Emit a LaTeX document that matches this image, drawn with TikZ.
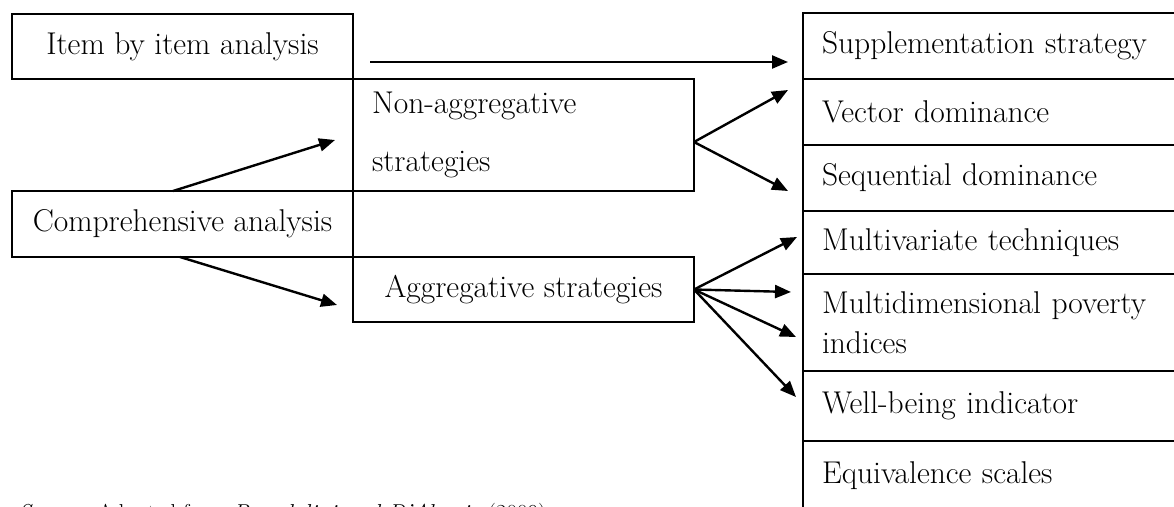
\documentclass[tikz,border=0pt]{standalone}
\usetikzlibrary{positioning,calc,arrows.meta}

\begin{document}
\begin{tikzpicture}[
    x=1pt, y=-1pt,
    node distance=0pt,
    every node/.style={font=\fontsize{31.5}{40}\selectfont, outer sep=0pt},
    box/.style={rectangle, draw, line width=2.4pt, inner sep=0pt,
                minimum width=341pt, text centered},
    row/.style={rectangle, draw, line width=2.4pt, inner xsep=19pt, inner ysep=0pt,
                text width=362pt, align=left},
    arrow/.style={-{Triangle[length=16pt,width=13pt]}, line width=2.4pt},
    lbl/.style={font=\fontsize{23}{28}\selectfont}
]
\useasboundingbox (0,0) rectangle (1174,506);
\clip (0,0) rectangle (1174,506);

%% ── Left side ───────────────────────────────────────────────────
\node[box, minimum height=65pt] (item) at (182.5,46.5) {Item by item analysis};
\node[box, minimum height=66pt] (comp) at (182.5,224)  {Comprehensive analysis};

%% ── Middle ──────────────────────────────────────────────────────
\node[box, minimum height=112pt, align=left, text width=303pt, inner xsep=19pt]
                             (nonagg) at (523.5,135) {Non-aggregative\\[18pt]strategies};
\node[box, minimum height=65pt] (agg) at (523.5,289.5) {Aggregative strategies};

%% ── Right column ────────────────────────────────────────────────
\node[row, minimum height=66pt, anchor=north west] (supp) at (803,13) {Supplementation strategy};
\node[row, minimum height=66pt, below=of supp]   (vec)    {Vector dominance};
\node[row, minimum height=66pt, below=of vec]    (seq)    {Sequential dominance};
\node[row, minimum height=63pt, below=of seq]    (multiv) {Multivariate techniques};
\node[row, minimum height=97pt, below=of multiv] (mdim)   {Multidimensional poverty\\indices};
\node[row, minimum height=70pt, below=of mdim]   (well)   {Well-being indicator};
\node[row, minimum height=69pt, below=of well]   (equiv)  {Equivalence scales};

%% ── Arrows ──────────────────────────────────────────────────────
\draw[arrow] ([xshift=17pt,yshift=-15.5pt]item.east) -- ([xshift=-15pt,yshift=-16pt]supp.west);

\draw[arrow] ([xshift=-9.5pt]comp.north) -- ([xshift=-18pt,yshift=-5pt]nonagg.west);
\draw[arrow] ([xshift=-2.5pt]comp.south) -- ([xshift=-16pt,yshift=-15.5pt]agg.west);

\draw[arrow] ([yshift=-7pt]nonagg.east) -- ([xshift=-15pt,yshift=22pt]vec.west);
\draw[arrow] ([yshift=-7pt]nonagg.east) -- ([xshift=-15pt,yshift=-13pt]seq.west);

\draw[arrow] (agg.east) -- ([xshift=-6pt,yshift=5.5pt]multiv.west);
\draw[arrow] (agg.east) -- ([xshift=-12pt,yshift=30.5pt]mdim.west);
\draw[arrow] (agg.east) -- ([xshift=-7pt,yshift=-14.5pt]mdim.west);
\draw[arrow] (agg.east) -- ([xshift=-7pt,yshift=9pt]well.west);

%% ── Source line (cut off at the bottom) ─────────────────────────
\node[lbl, anchor=base west] (src) at (15,520.5)
    {\textit{Source}: Adapted from \textit{Brandolini and D'Alessio} (2009)};
\end{tikzpicture}
\end{document}
